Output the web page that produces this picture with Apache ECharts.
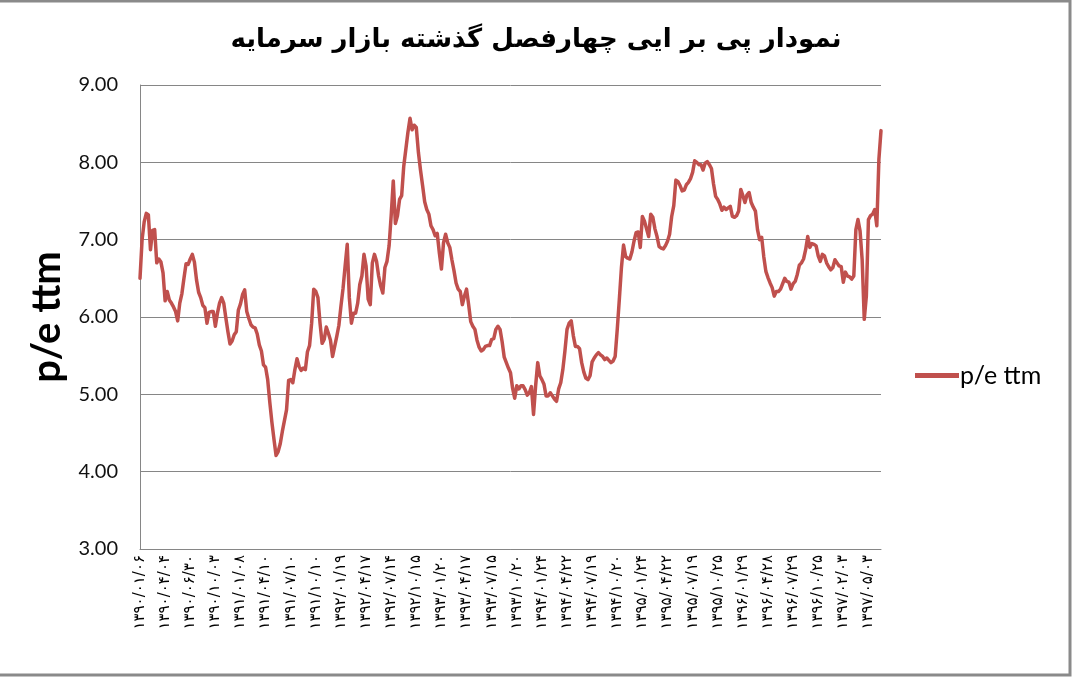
<!DOCTYPE html>
<html>
<head>
<meta charset="utf-8">
<script src="https://cdn.jsdelivr.net/npm/echarts@6/dist/echarts.min.js"></script>
<style>
html,body{margin:0;padding:0;background:#fff;}
#chart{width:1074px;height:677px;}
</style>
</head>
<body>
<div id="chart"></div>
<script>
const chartTitle = 'نمودار پی بر ایی چهارفصل گذشته بازار سرمایه';
const seriesName = 'p/e ttm';
const tickLabels = [
  '۱۳۹۰/۰۱/۰۶','۱۳۹۰/۰۴/۰۴','۱۳۹۰/۰۶/۳۰','۱۳۹۰/۱۰/۰۳','۱۳۹۱/۰۱/۰۸','۱۳۹۱/۰۴/۱۰',
  '۱۳۹۱/۰۷/۱۰','۱۳۹۱/۱۰/۱۰','۱۳۹۲/۰۱/۱۹','۱۳۹۲/۰۴/۱۷','۱۳۹۲/۰۷/۱۴','۱۳۹۲/۱۰/۱۵',
  '۱۳۹۳/۰۱/۲۰','۱۳۹۳/۰۴/۱۷','۱۳۹۳/۰۷/۱۵','۱۳۹۳/۱۰/۲۰','۱۳۹۴/۰۱/۲۴','۱۳۹۴/۰۴/۲۲',
  '۱۳۹۴/۰۷/۱۹','۱۳۹۴/۱۰/۲۰','۱۳۹۵/۰۱/۲۴','۱۳۹۵/۰۴/۲۲','۱۳۹۵/۰۷/۱۹','۱۳۹۵/۱۰/۲۵',
  '۱۳۹۶/۰۱/۲۹','۱۳۹۶/۰۴/۲۸','۱۳۹۶/۰۷/۲۹','۱۳۹۶/۱۰/۲۵','۱۳۹۷/۰۲/۰۳','۱۳۹۷/۰۵/۰۳'
];
const pointsPerTick = 12;
const peValues = [
  6.50,7.00,7.23,7.34,7.32,6.87,7.12,7.13,6.70,6.75,6.71,6.57,
  6.21,6.33,6.22,6.18,6.13,6.07,5.95,6.18,6.30,6.50,6.69,6.68,
  6.75,6.81,6.71,6.48,6.32,6.25,6.15,6.12,5.92,6.06,6.07,6.07,
  5.88,6.05,6.18,6.25,6.18,5.99,5.81,5.65,5.69,5.77,5.81,6.09,
  6.17,6.29,6.35,6.07,5.98,5.90,5.87,5.86,5.78,5.64,5.56,5.38,
  5.35,5.19,4.90,4.64,4.42,4.21,4.26,4.36,4.52,4.66,4.80,5.18,
  5.19,5.15,5.32,5.46,5.36,5.31,5.34,5.32,5.55,5.63,5.92,6.36,
  6.33,6.25,5.92,5.66,5.71,5.87,5.79,5.70,5.49,5.62,5.75,5.89,
  6.14,6.37,6.66,6.94,6.25,5.92,6.05,6.05,6.18,6.42,6.53,6.81,
  6.66,6.23,6.16,6.70,6.81,6.72,6.53,6.40,6.31,6.64,6.72,6.92,
  7.31,7.76,7.21,7.31,7.52,7.57,7.95,8.17,8.39,8.57,8.42,8.48,
  8.45,8.13,7.90,7.70,7.49,7.39,7.33,7.18,7.13,7.05,7.08,6.83,
  6.62,6.96,7.07,6.96,6.90,6.74,6.60,6.44,6.36,6.33,6.16,6.27,
  6.36,6.16,5.94,5.88,5.84,5.70,5.61,5.56,5.58,5.62,5.63,5.63,
  5.71,5.72,5.84,5.88,5.84,5.68,5.48,5.41,5.34,5.28,5.08,4.95,
  5.11,5.07,5.11,5.11,5.06,4.99,5.02,5.10,4.74,5.11,5.41,5.24,
  5.19,5.13,4.98,4.98,5.02,4.98,4.94,4.91,5.07,5.15,5.32,5.56,
  5.84,5.92,5.95,5.76,5.62,5.62,5.59,5.41,5.29,5.21,5.19,5.24,
  5.42,5.47,5.51,5.54,5.51,5.49,5.45,5.47,5.44,5.41,5.43,5.49,
  5.84,6.23,6.64,6.93,6.78,6.76,6.75,6.84,6.98,7.09,7.10,6.90,
  7.30,7.24,7.14,7.04,7.33,7.29,7.14,7.04,6.91,6.89,6.88,6.92,
  6.98,7.07,7.30,7.44,7.77,7.75,7.70,7.63,7.64,7.71,7.74,7.79,
  7.87,8.02,8.00,7.97,7.97,7.90,7.99,8.01,7.97,7.92,7.72,7.56,
  7.52,7.46,7.38,7.42,7.39,7.41,7.43,7.30,7.29,7.31,7.37,7.65,
  7.57,7.48,7.58,7.61,7.48,7.42,7.37,7.13,7.00,7.03,6.78,6.59,
  6.51,6.44,6.38,6.27,6.33,6.33,6.36,6.43,6.50,6.46,6.45,6.36,
  6.43,6.46,6.55,6.67,6.70,6.75,6.87,7.04,6.90,6.95,6.94,6.92,
  6.79,6.72,6.81,6.79,6.70,6.65,6.61,6.64,6.74,6.70,6.66,6.65,
  6.45,6.58,6.53,6.52,6.49,6.53,7.13,7.26,7.11,6.74,5.97,6.27,
  7.26,7.31,7.33,7.39,7.18,8.04,8.41
];
const yMin = 3, yMax = 9, yStep = 1;

const categories = peValues.map((_, i) => (i % pointsPerTick === 0 ? (tickLabels[i / pointsPerTick] || '') : ''));

const chart = echarts.init(document.getElementById('chart'), null, {renderer: 'canvas'});
chart.setOption({
  animation: false,
  backgroundColor: '#ffffff',
  title: {
    text: chartTitle,
    left: 531,
    textAlign: 'center',
    top: 22,
    textStyle: {fontFamily: 'DejaVu Sans', fontWeight: 'bold', fontSize: 26, color: '#000'}
  },
  legend: {
    data: [seriesName],
    left: 910,
    top: 358,
    icon: 'rect',
    itemWidth: 44,
    itemHeight: 5,
    itemGap: 0,
    textStyle: {fontFamily: 'Lato', fontSize: 25, color: '#000', padding: [0, 0, 0, -4]}
  },
  grid: {left: 140, right: 193, top: 85, bottom: 128, containLabel: false},
  xAxis: {
    type: 'category',
    boundaryGap: false,
    data: categories,
    axisLine: {show: true, lineStyle: {color: '#868686', width: 1}},
    axisTick: {show: false},
    splitLine: {show: false},
    axisLabel: {
      interval: (idx) => idx % pointsPerTick === 0,
      rotate: 90,
      margin: 6,
      fontFamily: 'DejaVu Sans',
      fontSize: 15,
      color: '#000'
    }
  },
  yAxis: {
    type: 'value',
    min: yMin,
    max: yMax,
    interval: yStep,
    name: seriesName,
    nameLocation: 'middle',
    nameGap: 66,
    nameTextStyle: {fontFamily: 'Lato', fontWeight: 'bold', fontSize: 40, color: '#000'},
    axisLine: {show: true, lineStyle: {color: '#868686', width: 1}},
    axisTick: {show: false},
    splitLine: {show: true, lineStyle: {color: '#868686', width: 1}},
    axisLabel: {
      formatter: (v) => v.toFixed(2),
      margin: 22,
      fontFamily: 'Lato',
      fontSize: 20,
      color: '#111'
    }
  },
  series: [{
    name: seriesName,
    type: 'line',
    data: peValues,
    symbol: 'none',
    showSymbol: false,
    lineStyle: {color: '#C0504D', width: 3.5, join: 'round', cap: 'round'},
    itemStyle: {color: '#C0504D'}
  }],
  graphic: [{
    type: 'rect',
    silent: true,
    shape: {x: -3, y: 1, width: 1073, height: 674},
    style: {fill: 'none', stroke: '#8a8a8a', lineWidth: 3}
  }]
});
</script>
</body>
</html>
